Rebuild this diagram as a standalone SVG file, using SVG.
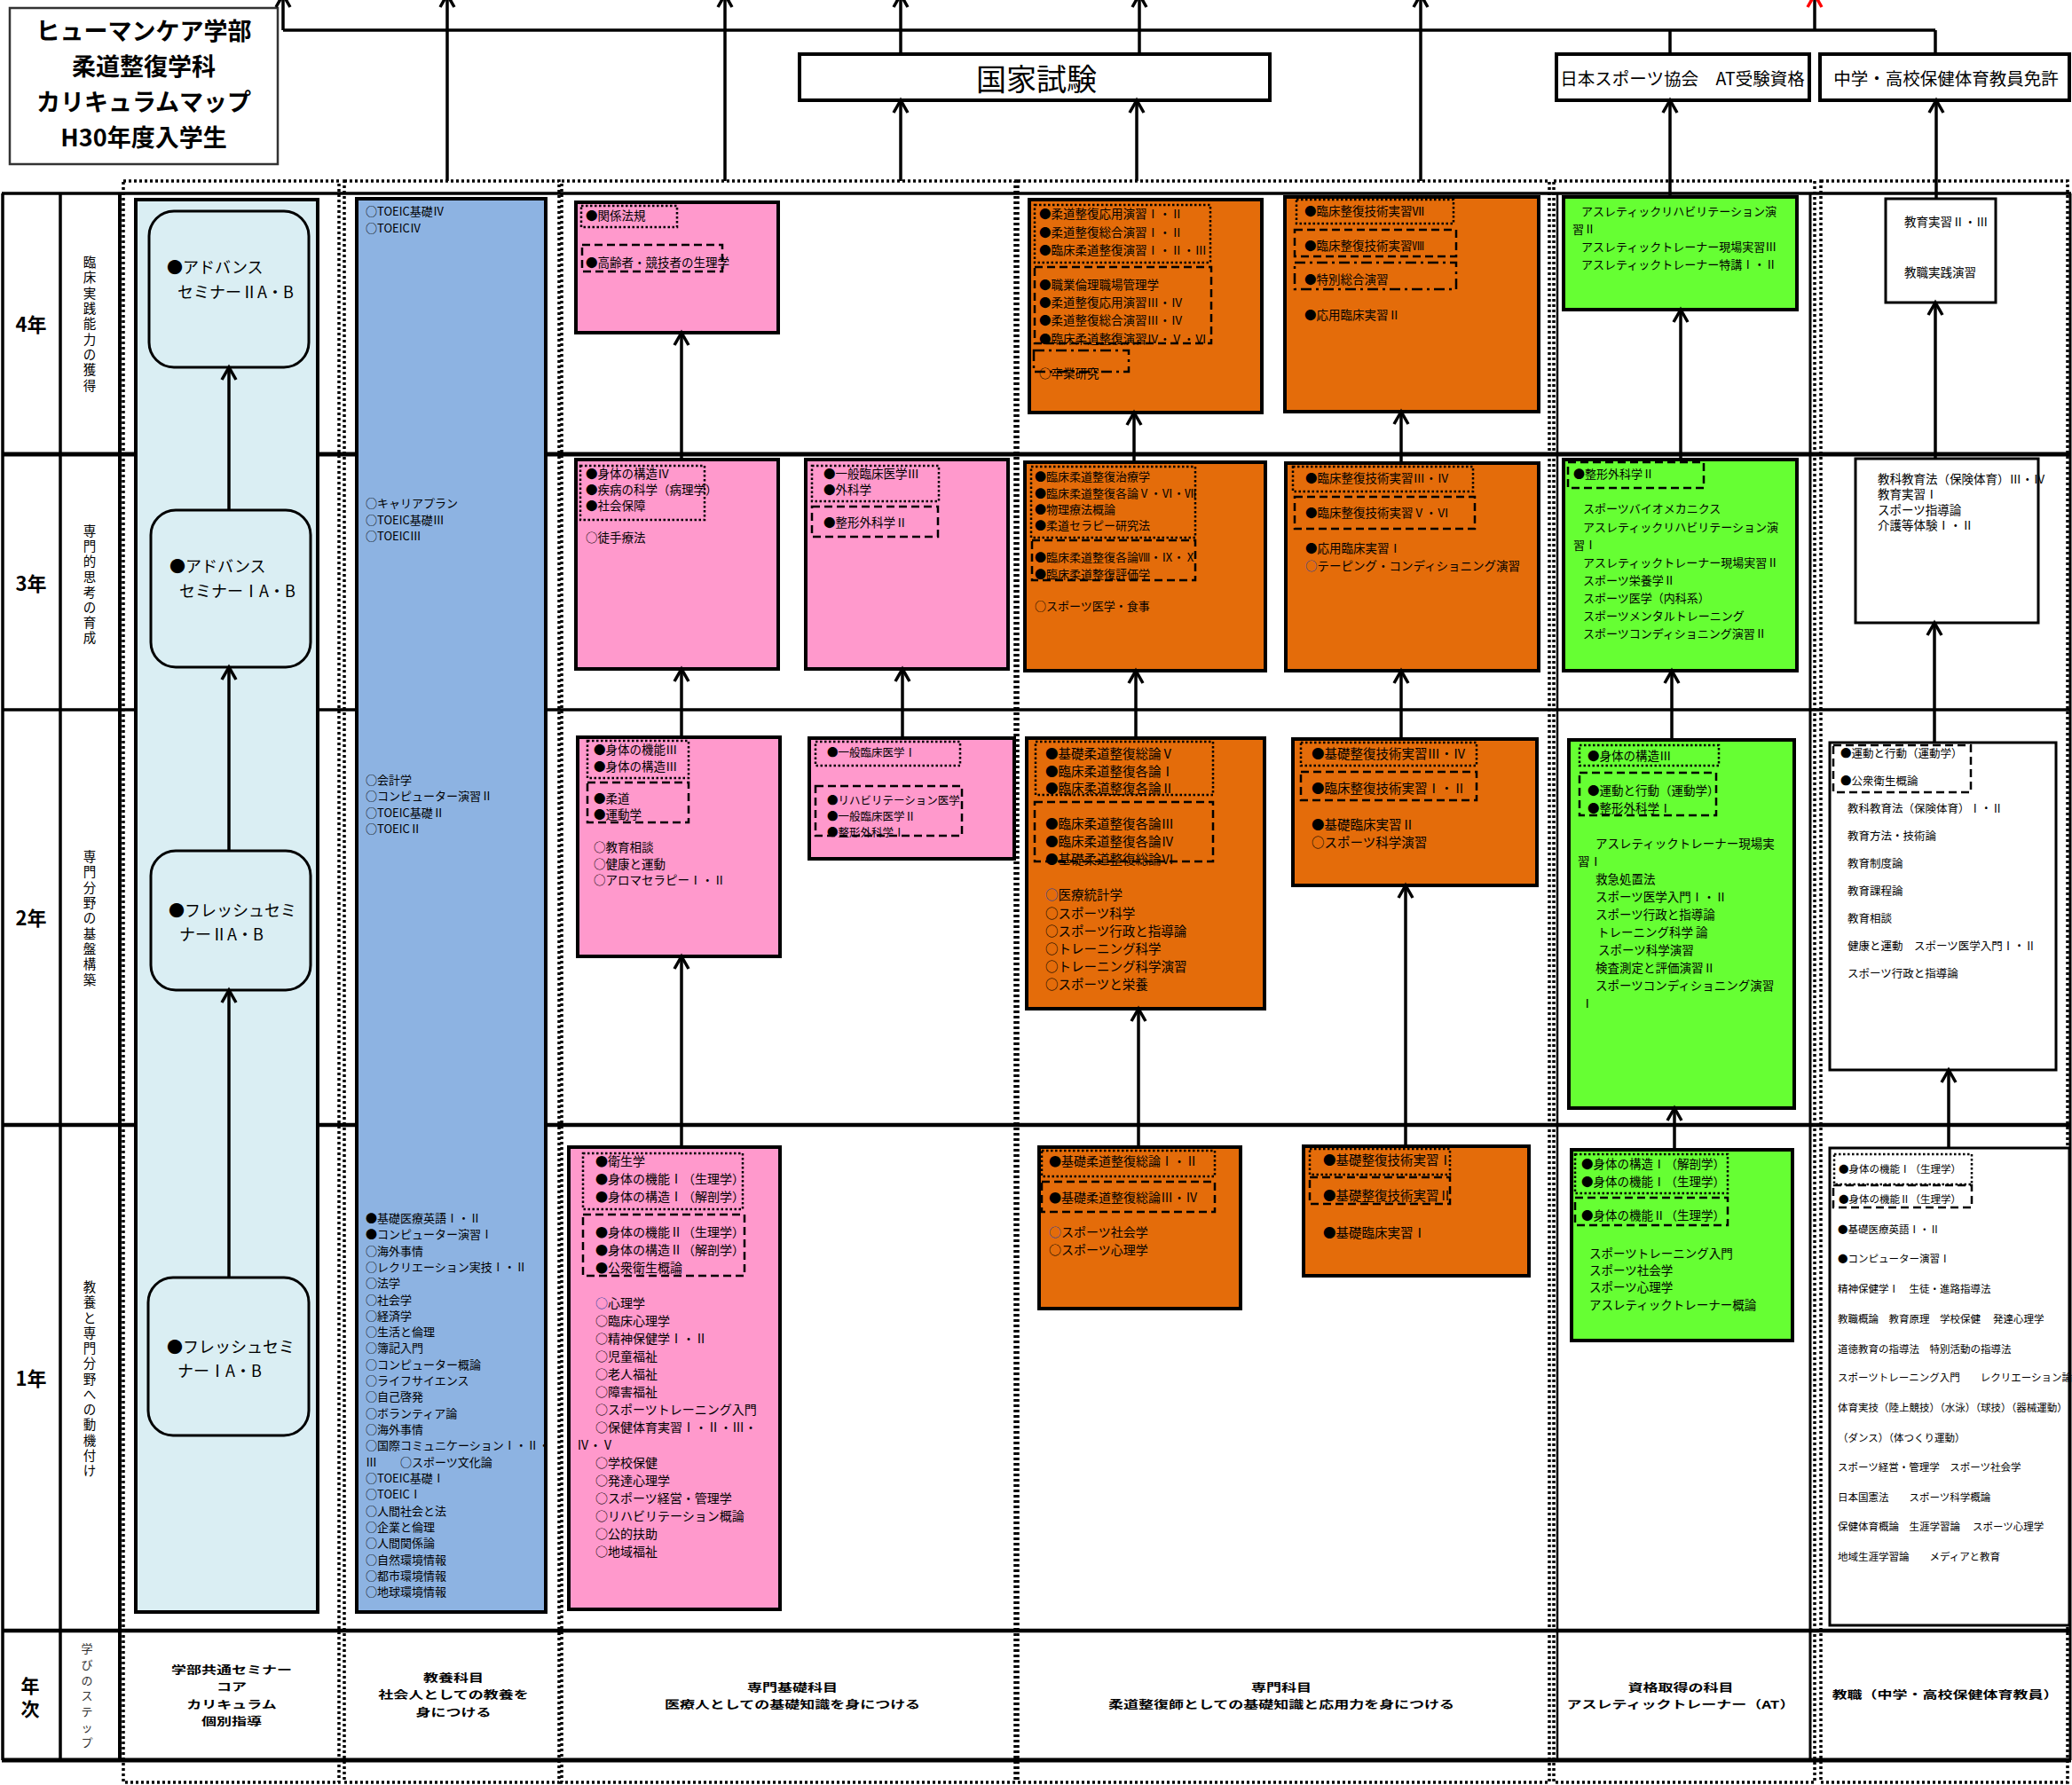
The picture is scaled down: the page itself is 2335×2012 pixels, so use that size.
<svg xmlns="http://www.w3.org/2000/svg" width="2335" height="2012" viewBox="0 0 2335 2012">
<style>
text{font-family:"Noto Sans CJK JP","Noto Sans",sans-serif;dominant-baseline:central;fill:#000}
.b{font-weight:bold}
.f11{font-size:11.5px}.f12{font-size:12.5px}.f13{font-size:13px}.f135{font-size:13.5px}.f14{font-size:14px}.f145{font-size:14.5px}
.mid{text-anchor:middle}
.lab{font-weight:bold;font-size:17px;text-anchor:middle}
.gl{stroke:#000;fill:none}
.grp{fill:none;stroke:#000;stroke-width:3.5;stroke-dasharray:3 3}
.bx{stroke:#000;stroke-width:4}
.pk{fill:#FF99CC}.or{fill:#E46C0A}.gr{fill:#66FF33}.wh{fill:#fff}.lb{fill:#DAEEF3}.bl{fill:#8DB3E2}
.sd{fill:none;stroke:#000;stroke-width:2.5;stroke-dasharray:2.5 2.5}
.sh{fill:none;stroke:#000;stroke-width:2.5;stroke-dasharray:9 5}
.sdd{fill:none;stroke:#000;stroke-width:2.5;stroke-dasharray:12 5 3 5}
.c{stroke:#000;stroke-width:3.5;fill:none}
.blue{fill:#1F3F9F}
</style>
<defs>
<marker id="ah" viewBox="-16 -10 20 20" refX="0" refY="0" markerWidth="20" markerHeight="20" markerUnits="userSpaceOnUse" orient="auto"><path d="M-14,-8 L0,0 L-14,8" fill="none" stroke="#000" stroke-width="3.5"/></marker>
<marker id="ahr" viewBox="-16 -10 20 20" refX="0" refY="0" markerWidth="20" markerHeight="20" markerUnits="userSpaceOnUse" orient="auto"><path d="M-14,-8 L0,0 L-14,8" fill="none" stroke="#FF0000" stroke-width="3.5"/></marker>
</defs>
<rect width="2335" height="2012" fill="#fff"/>

<g id="grid">
<path class="gl" stroke-width="3.5" d="M2,218H2334M2,800H2334"/>
<path class="gl" stroke-width="5" d="M2,512H2334M2,1984H2334"/>
<path class="gl" stroke-width="4.5" d="M2,1268H2334M2,1838H2334"/>
<path class="gl" stroke-width="3.5" d="M3,218V1984M68,218V1984"/>
<path class="gl" stroke-width="4" d="M135,218V1984"/>
<path class="gl" stroke-width="2.5" d="M1755,218V1984"/>
<path class="gl" stroke-width="3" d="M2040,218V1984M2333,218V1984"/>
<rect class="grp" x="139" y="204" width="243" height="1805"/>
<rect class="grp" x="388" y="204" width="242" height="1805"/>
<rect class="grp" x="633" y="204" width="511" height="1805"/>
<rect class="grp" x="1147" y="204" width="599" height="1805"/>
<rect class="grp" x="1751" y="204" width="294" height="1805"/>
<rect class="grp" x="2052" y="204" width="278" height="1805"/>
</g>

<g id="labels">
<text class="b mid" x="35" y="364" font-size="22">4年</text>
<text class="b mid" x="35" y="656" font-size="22">3年</text>
<text class="b mid" x="35" y="1033" font-size="22">2年</text>
<text class="b mid" x="35" y="1552" font-size="22">1年</text>
<text class="mid" x="101" font-size="14.5"><tspan x="101" y="294">臨</tspan><tspan x="101" y="311">床</tspan><tspan x="101" y="329">実</tspan><tspan x="101" y="346">践</tspan><tspan x="101" y="363">能</tspan><tspan x="101" y="381">力</tspan><tspan x="101" y="398">の</tspan><tspan x="101" y="415">獲</tspan><tspan x="101" y="433">得</tspan></text>
<text class="mid" x="101" font-size="14.5"><tspan x="101" y="597">専</tspan><tspan x="101" y="614">門</tspan><tspan x="101" y="631">的</tspan><tspan x="101" y="649">思</tspan><tspan x="101" y="666">考</tspan><tspan x="101" y="683">の</tspan><tspan x="101" y="700">育</tspan><tspan x="101" y="717">成</tspan></text>
<text class="mid" x="101" font-size="14.5"><tspan x="101" y="964">専</tspan><tspan x="101" y="981">門</tspan><tspan x="101" y="999">分</tspan><tspan x="101" y="1016">野</tspan><tspan x="101" y="1033">の</tspan><tspan x="101" y="1051">基</tspan><tspan x="101" y="1068">盤</tspan><tspan x="101" y="1085">構</tspan><tspan x="101" y="1103">築</tspan></text>
<text class="mid" x="101" font-size="14.5"><tspan x="101" y="1449">教</tspan><tspan x="101" y="1466">養</tspan><tspan x="101" y="1484">と</tspan><tspan x="101" y="1501">専</tspan><tspan x="101" y="1518">門</tspan><tspan x="101" y="1535">分</tspan><tspan x="101" y="1553">野</tspan><tspan x="101" y="1570">へ</tspan><tspan x="101" y="1587">の</tspan><tspan x="101" y="1604">動</tspan><tspan x="101" y="1622">機</tspan><tspan x="101" y="1639">付</tspan><tspan x="101" y="1656">け</tspan></text>
<text class="b mid" x="34" font-size="21"><tspan x="34" y="1899">年</tspan><tspan x="34" y="1925">次</tspan></text>
<text class="mid" x="98" font-size="13" style="fill:#333"><tspan x="98" y="1857">学</tspan><tspan x="98" y="1875">び</tspan><tspan x="98" y="1893">の</tspan><tspan x="98" y="1910">ス</tspan><tspan x="98" y="1928">テ</tspan><tspan x="98" y="1946">ッ</tspan><tspan x="98" y="1963">プ</tspan></text>
<text class="lab" transform="translate(261,1882) scale(1,0.72)">学部共通セミナー</text>
<text class="lab" transform="translate(261,1901) scale(1,0.72)">コア</text>
<text class="lab" transform="translate(261,1921) scale(1,0.72)">カリキュラム</text>
<text class="lab" transform="translate(261,1940) scale(1,0.72)">個別指導</text>
<text class="lab" transform="translate(511,1891) scale(1,0.72)">教養科目</text>
<text class="lab" transform="translate(511,1910) scale(1,0.72)">社会人としての教養を</text>
<text class="lab" transform="translate(511,1930) scale(1,0.72)">身につける</text>
<text class="lab" transform="translate(893,1902) scale(1,0.72)">専門基礎科目</text>
<text class="lab" transform="translate(893,1921) scale(1,0.72)">医療人としての基礎知識を身につける</text>
<text class="lab" transform="translate(1444,1902) scale(1,0.72)">専門科目</text>
<text class="lab" transform="translate(1444,1921) scale(1,0.72)">柔道整復師としての基礎知識と応用力を身につける</text>
<text class="lab" transform="translate(1894,1902) scale(1,0.72)">資格取得の科目</text>
<text class="lab" transform="translate(1894,1921) scale(1,0.72)">アスレティックトレーナー（AT）</text>
<text class="lab" font-size="16.5" transform="translate(2192,1910) scale(1,0.72)">教職（中学・高校保健体育教員）</text>
</g>

<g id="title">
<rect x="11" y="9" width="302" height="176" fill="#fff" stroke="#333" stroke-width="2.5"/>
<text class="b mid" font-size="27"><tspan x="162" y="33">ヒューマンケア学部</tspan><tspan x="162" y="73">柔道整復学科</tspan><tspan x="162" y="113">カリキュラムマップ</tspan><tspan x="162" y="153">H30年度入学生</tspan></text>
</g>

<g id="exam">
<rect class="bx wh" x="901" y="61" width="530" height="52"/>
<text class="mid" x="1168" y="87" font-size="34">国家試験</text>
</g>
<g id="at-cert">
<rect class="bx wh" x="1754" y="61" width="285" height="52"/>
<text class="mid" x="1896" y="87" font-size="19.5">日本スポーツ協会　AT受験資格</text>
</g>
<g id="teacher-cert">
<rect class="bx wh" x="2051" y="61" width="281" height="52"/>
<text class="mid" x="2193" y="87" font-size="19.5">中学・高校保健体育教員免許</text>
</g>

<g id="seminar-col"><rect class="bx lb" x="153" y="225" width="205" height="1592"/></g>
<g id="sem4"><rect x="168" y="238" width="180" height="176" rx="28" fill="#DAEEF3" stroke="#000" stroke-width="3"/>
<text font-size="18"><tspan x="188" y="300">●アドバンス</tspan><tspan x="200" y="328">セミナーⅡA・B</tspan></text></g>
<g id="sem3"><rect x="170" y="575" width="180" height="177" rx="28" fill="#DAEEF3" stroke="#000" stroke-width="3"/>
<text font-size="18"><tspan x="191" y="637">●アドバンス</tspan><tspan x="202" y="665">セミナーⅠA・B</tspan></text></g>
<g id="sem2"><rect x="170" y="959" width="180" height="157" rx="28" fill="#DAEEF3" stroke="#000" stroke-width="3"/>
<text font-size="18"><tspan x="190" y="1025">●フレッシュセミ</tspan><tspan x="202" y="1052">ナーⅡA・B</tspan></text></g>
<g id="sem1"><rect x="167" y="1440" width="181" height="178" rx="28" fill="#DAEEF3" stroke="#000" stroke-width="3"/>
<text font-size="18"><tspan x="188" y="1517">●フレッシュセミ</tspan><tspan x="200" y="1544">ナーⅠA・B</tspan></text></g>

<g id="liberal">
<rect class="bx bl" x="402" y="224" width="213" height="1593"/>
<text class="f13"><tspan x="412" y="237">○TOEIC基礎Ⅳ</tspan><tspan x="412" y="256">○TOEICⅣ</tspan>
<tspan x="412" y="566">○キャリアプラン</tspan><tspan x="412" y="585">○TOEIC基礎Ⅲ</tspan><tspan x="412" y="603">○TOEICⅢ</tspan>
<tspan x="412" y="878">○会計学</tspan><tspan x="412" y="896">○コンピューター演習Ⅱ</tspan><tspan x="412" y="915">○TOEIC基礎Ⅱ</tspan><tspan x="412" y="933">○TOEICⅡ</tspan>
<tspan x="412" y="1372">●基礎医療英語Ⅰ・Ⅱ</tspan><tspan x="412" y="1390">●コンピューター演習Ⅰ</tspan><tspan x="412" y="1409">○海外事情</tspan><tspan x="412" y="1427">○レクリエーション実技Ⅰ・Ⅱ</tspan><tspan x="412" y="1445">○法学</tspan><tspan x="412" y="1464">○社会学</tspan><tspan x="412" y="1482">○経済学</tspan><tspan x="412" y="1500">○生活と倫理</tspan><tspan x="412" y="1518">○簿記入門</tspan><tspan x="412" y="1537">○コンピューター概論</tspan><tspan x="412" y="1555">○ライフサイエンス</tspan><tspan x="412" y="1573">○自己啓発</tspan><tspan x="412" y="1592">○ボランティア論</tspan><tspan x="412" y="1610">○海外事情</tspan><tspan x="412" y="1628">○国際コミュニケーションⅠ・Ⅱ・</tspan><tspan x="412" y="1647">Ⅲ　　○スポーツ文化論</tspan><tspan x="412" y="1665">○TOEIC基礎Ⅰ</tspan><tspan x="412" y="1683">○TOEICⅠ</tspan><tspan x="412" y="1702">○人間社会と法</tspan><tspan x="412" y="1720">○企業と倫理</tspan><tspan x="412" y="1738">○人間関係論</tspan><tspan x="412" y="1757">○自然環境情報</tspan><tspan x="412" y="1775">○都市環境情報</tspan><tspan x="412" y="1793">○地球環境情報</tspan></text>
</g>

<g id="pink4">
<rect class="bx pk" x="649" y="228" width="228" height="147"/>
<rect class="sd" x="655" y="232" width="108" height="24"/>
<rect class="sh" x="656" y="276" width="158" height="30"/>
<text class="f135"><tspan x="660" y="242">●関係法規</tspan><tspan x="660" y="295">●高齢者・競技者の生理学</tspan></text>
</g>
<g id="pink3a">
<rect class="bx pk" x="649" y="518" width="228" height="236"/>
<rect class="sd" x="654" y="525" width="140" height="61"/>
<text class="f135"><tspan x="660" y="533">●身体の構造Ⅳ</tspan><tspan x="660" y="551">●疾病の科学（病理学）</tspan><tspan x="660" y="569">●社会保障</tspan><tspan x="660" y="605">○徒手療法</tspan></text>
</g>
<g id="pink3b">
<rect class="bx pk" x="908" y="518" width="228" height="236"/>
<rect class="sd" x="915" y="525" width="143" height="40"/>
<rect class="sh" x="915" y="571" width="142" height="34"/>
<text class="f135"><tspan x="928" y="533">●一般臨床医学Ⅲ</tspan><tspan x="928" y="551">●外科学</tspan><tspan x="928" y="588">●整形外科学Ⅱ</tspan></text>
</g>
<g id="pink2a">
<rect class="bx pk" x="651" y="831" width="228" height="247"/>
<rect class="sd" x="662" y="835" width="114" height="42"/>
<rect class="sh" x="662" y="882" width="114" height="45"/>
<text class="f135"><tspan x="669" y="844">●身体の機能Ⅲ</tspan><tspan x="669" y="863">●身体の構造Ⅲ</tspan><tspan x="669" y="899">●柔道</tspan><tspan x="669" y="917">●運動学</tspan><tspan x="669" y="954">○教育相談</tspan><tspan x="669" y="973">○健康と運動</tspan><tspan x="669" y="991">○アロマセラピーⅠ・Ⅱ</tspan></text>
</g>
<g id="pink2b">
<rect class="bx pk" x="912" y="832" width="231" height="136"/>
<rect class="sd" x="919" y="836" width="163" height="27"/>
<rect class="sh" x="919" y="886" width="165" height="56"/>
<text class="f12"><tspan x="932" y="847">●一般臨床医学Ⅰ</tspan><tspan x="932" y="901">●リハビリテーション医学</tspan><tspan x="932" y="919">●一般臨床医学Ⅱ</tspan><tspan x="932" y="937">●整形外科学Ⅰ</tspan></text>
</g>
<g id="pink1">
<rect class="bx pk" x="641" y="1293" width="238" height="521"/>
<rect class="sd" x="657" y="1300" width="180" height="63"/>
<rect class="sh" x="657" y="1369" width="182" height="69"/>
<text class="f14"><tspan x="671" y="1308">●衛生学</tspan><tspan x="671" y="1328">●身体の機能Ⅰ（生理学）</tspan><tspan x="671" y="1348">●身体の構造Ⅰ（解剖学）</tspan><tspan x="671" y="1388">●身体の機能Ⅱ（生理学）</tspan><tspan x="671" y="1408">●身体の構造Ⅱ（解剖学）</tspan><tspan x="671" y="1428">●公衆衛生概論</tspan><tspan x="671" y="1468"><tspan class="blue">○</tspan>心理学</tspan><tspan x="671" y="1488">○臨床心理学</tspan><tspan x="671" y="1508">○精神保健学Ⅰ・Ⅱ</tspan><tspan x="671" y="1528">○児童福祉</tspan><tspan x="671" y="1548">○老人福祉</tspan><tspan x="671" y="1568">○障害福祉</tspan><tspan x="671" y="1588">○スポーツトレーニング入門</tspan><tspan x="671" y="1608">○保健体育実習Ⅰ・Ⅱ・Ⅲ・</tspan><tspan x="650" y="1628">Ⅳ・Ⅴ</tspan><tspan x="671" y="1648">○学校保健</tspan><tspan x="671" y="1668">○発達心理学</tspan><tspan x="671" y="1688">○スポーツ経営・管理学</tspan><tspan x="671" y="1708">○リハビリテーション概論</tspan><tspan x="671" y="1728">○公的扶助</tspan><tspan x="671" y="1748">○地域福祉</tspan></text>
</g>

<g id="orange4a">
<rect class="bx or" x="1160" y="225" width="262" height="240"/>
<rect class="sd" x="1166" y="231" width="198" height="65"/>
<rect class="sh" x="1166" y="301" width="199" height="86"/>
<rect class="sdd" x="1165" y="395" width="107" height="24"/>
<text class="f135"><tspan x="1171" y="240">●柔道整復応用演習Ⅰ・Ⅱ</tspan><tspan x="1171" y="261">●柔道整復総合演習Ⅰ・Ⅱ</tspan><tspan x="1171" y="281">●臨床柔道整復演習Ⅰ・Ⅱ・Ⅲ</tspan><tspan x="1171" y="320">●職業倫理職場管理学</tspan><tspan x="1171" y="340">●柔道整復応用演習Ⅲ・Ⅳ</tspan><tspan x="1171" y="360">●柔道整復総合演習Ⅲ・Ⅳ</tspan><tspan x="1171" y="381">●臨床柔道整復演習Ⅳ・Ⅴ・Ⅵ</tspan><tspan x="1171" y="420">○卒業研究</tspan></text>
</g>
<g id="orange4b">
<rect class="bx or" x="1448" y="222" width="286" height="242"/>
<rect class="sd" x="1461" y="225" width="177" height="27"/>
<rect class="sh" x="1459" y="259" width="182" height="30"/>
<rect class="sdd" x="1459" y="296" width="182" height="30"/>
<text class="f135"><tspan x="1470" y="237">●臨床整復技術実習Ⅶ</tspan><tspan x="1470" y="276">●臨床整復技術実習Ⅷ</tspan><tspan x="1470" y="314">●特別総合演習</tspan><tspan x="1470" y="354">●応用臨床実習Ⅱ</tspan></text>
</g>
<g id="orange3a">
<rect class="bx or" x="1155" y="521" width="271" height="235"/>
<rect class="sd" x="1162" y="526" width="185" height="80"/>
<rect class="sh" x="1163" y="609" width="184" height="45"/>
<text class="f13"><tspan x="1166" y="536">●臨床柔道整復治療学</tspan><tspan x="1166" y="555">●臨床柔道整復各論Ⅴ・Ⅵ・Ⅶ</tspan><tspan x="1166" y="573">●物理療法概論</tspan><tspan x="1166" y="591">●柔道セラピー研究法</tspan><tspan x="1166" y="627">●臨床柔道整復各論Ⅷ・Ⅸ・Ⅹ</tspan><tspan x="1166" y="646">●臨床柔道整復評価学</tspan><tspan x="1166" y="682">○スポーツ医学・食事</tspan></text>
</g>
<g id="orange3b">
<rect class="bx or" x="1449" y="522" width="285" height="234"/>
<rect class="sd" x="1457" y="526" width="203" height="28"/>
<rect class="sh" x="1459" y="560" width="203" height="36"/>
<text class="f135"><tspan x="1471" y="538">●臨床整復技術実習Ⅲ・Ⅳ</tspan><tspan x="1471" y="577">●臨床整復技術実習Ⅴ・Ⅵ</tspan><tspan x="1471" y="617">●応用臨床実習Ⅰ</tspan><tspan x="1471" y="637"><tspan class="blue">○</tspan>テーピング・コンディショニング演習</tspan></text>
</g>
<g id="orange2a">
<rect class="bx or" x="1157" y="832" width="268" height="305"/>
<rect class="sd" x="1167" y="836" width="200" height="60"/>
<rect class="sh" x="1166" y="904" width="201" height="67"/>
<text class="f145"><tspan x="1178" y="848">●基礎柔道整復総論Ⅴ</tspan><tspan x="1178" y="868">●臨床柔道整復各論Ⅰ</tspan><tspan x="1178" y="887">●臨床柔道整復各論Ⅱ</tspan><tspan x="1178" y="927">●臨床柔道整復各論Ⅲ</tspan><tspan x="1178" y="947">●臨床柔道整復各論Ⅳ</tspan><tspan x="1178" y="967">●基礎柔道整復総論Ⅵ</tspan><tspan x="1178" y="1007"><tspan class="blue">○</tspan>医療統計学</tspan><tspan x="1178" y="1028">○スポーツ科学</tspan><tspan x="1178" y="1048">○スポーツ行政と指導論</tspan><tspan x="1178" y="1068">○トレーニング科学</tspan><tspan x="1178" y="1088">○トレーニング科学演習</tspan><tspan x="1178" y="1108">○スポーツと栄養</tspan></text>
</g>
<g id="orange2b">
<rect class="bx or" x="1457" y="833" width="275" height="165"/>
<rect class="sd" x="1466" y="837" width="198" height="26"/>
<rect class="sh" x="1466" y="870" width="198" height="32"/>
<text class="f145"><tspan x="1478" y="848">●基礎整復技術実習Ⅲ・Ⅳ</tspan><tspan x="1478" y="887">●臨床整復技術実習Ⅰ・Ⅱ</tspan><tspan x="1478" y="928">●基礎臨床実習Ⅱ</tspan><tspan x="1478" y="948">○スポーツ科学演習</tspan></text>
</g>
<g id="orange1a">
<rect class="bx or" x="1171" y="1293" width="227" height="182"/>
<rect class="sd" x="1174" y="1297" width="195" height="29"/>
<rect class="sh" x="1174" y="1332" width="195" height="34"/>
<text class="f14"><tspan x="1182" y="1308">●基礎柔道整復総論Ⅰ・Ⅱ</tspan><tspan x="1182" y="1349">●基礎柔道整復総論Ⅲ・Ⅳ</tspan><tspan x="1182" y="1388"><tspan class="blue">○</tspan>スポーツ社会学</tspan><tspan x="1182" y="1408">○スポーツ心理学</tspan></text>
</g>
<g id="orange1b">
<rect class="bx or" x="1469" y="1292" width="254" height="146"/>
<rect class="sd" x="1476" y="1295" width="158" height="29"/>
<rect class="sh" x="1476" y="1327" width="158" height="30"/>
<text class="f145"><tspan x="1491" y="1306">●基礎整復技術実習Ⅰ</tspan><tspan x="1491" y="1346">●基礎整復技術実習Ⅱ</tspan><tspan x="1491" y="1388">●基礎臨床実習Ⅰ</tspan></text>
</g>

<g id="green4">
<rect class="bx gr" x="1762" y="222" width="263" height="127" stroke-width="3.5"/>
<text class="f13"><tspan x="1782" y="237">アスレティックリハビリテーション演</tspan><tspan x="1772" y="257">習Ⅱ</tspan><tspan x="1782" y="277">アスレティックトレーナー現場実習Ⅲ</tspan><tspan x="1782" y="297">アスレティックトレーナー特講Ⅰ・Ⅱ</tspan></text>
</g>
<g id="green3">
<rect class="bx gr" x="1762" y="518" width="263" height="238" stroke-width="3.5"/>
<rect class="sh" x="1767" y="521" width="153" height="29"/>
<text class="f13"><tspan x="1773" y="533">●整形外科学Ⅱ</tspan><tspan x="1784" y="572">スポーツバイオメカニクス</tspan><tspan x="1784" y="593">アスレティックリハビリテーション演</tspan><tspan x="1773" y="613">習Ⅰ</tspan><tspan x="1784" y="633">アスレティックトレーナー現場実習Ⅱ</tspan><tspan x="1784" y="653">スポーツ栄養学Ⅱ</tspan><tspan x="1784" y="673">スポーツ医学（内科系）</tspan><tspan x="1784" y="693">スポーツメンタルトレーニング</tspan><tspan x="1784" y="713">スポーツコンディショニング演習Ⅱ</tspan></text>
</g>
<g id="green2">
<rect class="bx gr" x="1768" y="834" width="254" height="415" stroke-width="3.5"/>
<rect class="sd" x="1780" y="840" width="157" height="23"/>
<rect class="sh" x="1780" y="871" width="154" height="48"/>
<text class="f135"><tspan x="1789" y="851">●身体の構造Ⅲ</tspan><tspan x="1789" y="890">●運動と行動（運動学）</tspan><tspan x="1789" y="910">●整形外科学Ⅰ</tspan><tspan x="1798" y="950">アスレティックトレーナー現場実</tspan><tspan x="1778" y="970">習Ⅰ</tspan><tspan x="1798" y="990">救急処置法</tspan><tspan x="1798" y="1010">スポーツ医学入門Ⅰ・Ⅱ</tspan><tspan x="1798" y="1030">スポーツ行政と指導論</tspan><tspan x="1800" y="1050">トレーニング科学 論</tspan><tspan x="1801" y="1070">スポーツ科学演習</tspan><tspan x="1798" y="1090">検査測定と評価演習Ⅱ</tspan><tspan x="1798" y="1110">スポーツコンディショニング演習</tspan><tspan x="1782" y="1130">Ⅰ</tspan></text>
</g>
<g id="green1">
<rect class="bx gr" x="1771" y="1296" width="249" height="215" stroke-width="3.5"/>
<rect class="sd" x="1775" y="1301" width="172" height="44"/>
<rect class="sh" x="1775" y="1350" width="172" height="31"/>
<text class="f135"><tspan x="1782" y="1311">●身体の構造Ⅰ（解剖学）</tspan><tspan x="1782" y="1331">●身体の機能Ⅰ（生理学）</tspan><tspan x="1782" y="1369">●身体の機能Ⅱ（生理学）</tspan><tspan x="1791" y="1412">スポーツトレーニング入門</tspan><tspan x="1791" y="1431">スポーツ社会学</tspan><tspan x="1791" y="1450">スポーツ心理学</tspan><tspan x="1791" y="1470">アスレティックトレーナー概論</tspan></text>
</g>

<g id="white4">
<rect class="wh" x="2125" y="224" width="124" height="117" stroke="#000" stroke-width="3"/>
<text class="f135"><tspan x="2146" y="249">教育実習Ⅱ・Ⅲ</tspan><tspan x="2146" y="306">教職実践演習</tspan></text>
</g>
<g id="white3">
<rect class="wh" x="2091" y="517" width="206" height="185" stroke="#000" stroke-width="3"/>
<text class="f135"><tspan x="2116" y="539">教科教育法（保険体育）Ⅲ・Ⅳ</tspan><tspan x="2116" y="556">教育実習Ⅰ</tspan><tspan x="2116" y="574">スポーツ指導論</tspan><tspan x="2116" y="591">介護等体験Ⅰ・Ⅱ</tspan></text>
</g>
<g id="white2">
<rect class="wh" x="2062" y="837" width="255" height="369" stroke="#000" stroke-width="3"/>
<rect class="sh" x="2066" y="840" width="155" height="53"/>
<text class="f12"><tspan x="2074" y="848">●運動と行動（運動学）</tspan><tspan x="2074" y="879">●公衆衛生概論</tspan><tspan x="2082" y="910">教科教育法（保険体育）Ⅰ・Ⅱ</tspan><tspan x="2082" y="941">教育方法・技術論</tspan><tspan x="2082" y="972">教育制度論</tspan><tspan x="2082" y="1003">教育課程論</tspan><tspan x="2082" y="1034">教育相談</tspan><tspan x="2082" y="1065">健康と運動　スポーツ医学入門Ⅰ・Ⅱ</tspan><tspan x="2082" y="1096">スポーツ行政と指導論</tspan></text>
</g>
<g id="white1">
<rect class="wh" x="2062" y="1294" width="270" height="538" stroke="#000" stroke-width="3"/>
<rect class="sd" x="2067" y="1301" width="155" height="34"/>
<rect class="sh" x="2066" y="1336" width="156" height="25"/>
<text class="f11"><tspan x="2072" y="1317">●身体の機能Ⅰ（生理学）</tspan><tspan x="2072" y="1351">●身体の機能Ⅱ（生理学）</tspan><tspan x="2071" y="1385">●基礎医療英語Ⅰ・Ⅱ</tspan><tspan x="2071" y="1418">●コンピューター演習Ⅰ</tspan><tspan x="2071" y="1452">精神保健学Ⅰ　生徒・進路指導法</tspan><tspan x="2071" y="1486">教職概論　教育原理　学校保健　 発達心理学</tspan><tspan x="2071" y="1520">道徳教育の指導法　特別活動の指導法</tspan><tspan x="2071" y="1552">スポーツトレーニング入門　　レクリエーション論</tspan><tspan x="2071" y="1586">体育実技（陸上競技）（水泳）（球技）（器械運動）</tspan><tspan x="2071" y="1620">（ダンス）（体つくり運動）</tspan><tspan x="2071" y="1653">スポーツ経営・管理学　スポーツ社会学</tspan><tspan x="2071" y="1687">日本国憲法　　スポーツ科学概論</tspan><tspan x="2071" y="1720">保健体育概論　生涯学習論　 スポーツ心理学</tspan><tspan x="2071" y="1754">地域生涯学習論　　メディアと教育</tspan></text>
</g>

<g id="connectors">
<path class="c" stroke-width="5" d="M319,34H2181"/>
<path class="c" d="M319,34V-6" marker-end="url(#ah)"/>
<path class="c" d="M504,204V-6" marker-end="url(#ah)"/>
<path class="c" d="M817,204V-6" marker-end="url(#ah)"/>
<path class="c" d="M1015,61V-6" marker-end="url(#ah)"/>
<path class="c" d="M1015,204V113" marker-end="url(#ah)"/>
<path class="c" d="M1284,61V-6" marker-end="url(#ah)"/>
<path class="c" d="M1281,204V113" marker-end="url(#ah)"/>
<path class="c" d="M1601,204V-6" marker-end="url(#ah)"/>
<path class="c" stroke="#FF0000" d="M2045,34V-6" marker-end="url(#ahr)"/>
<path class="c" d="M1882,34V61M2181,34V61"/>
<path class="c" d="M1882,222V113" marker-end="url(#ah)"/>
<path class="c" d="M2182,224V113" marker-end="url(#ah)"/>
<path class="c" d="M258,575V414" marker-end="url(#ah)"/>
<path class="c" d="M258,959V752" marker-end="url(#ah)"/>
<path class="c" d="M258,1440V1116" marker-end="url(#ah)"/>
<path class="c" d="M768,518V375" marker-end="url(#ah)"/>
<path class="c" d="M768,831V754" marker-end="url(#ah)"/>
<path class="c" d="M1017,832V754" marker-end="url(#ah)"/>
<path class="c" d="M768,1293V1078" marker-end="url(#ah)"/>
<path class="c" d="M1278,521V465" marker-end="url(#ah)"/>
<path class="c" d="M1579,522V464" marker-end="url(#ah)"/>
<path class="c" d="M1280,832V756" marker-end="url(#ah)"/>
<path class="c" d="M1579,833V756" marker-end="url(#ah)"/>
<path class="c" d="M1283,1293V1137" marker-end="url(#ah)"/>
<path class="c" d="M1584,1292V998" marker-end="url(#ah)"/>
<path class="c" d="M1894,518V349" marker-end="url(#ah)"/>
<path class="c" d="M1884,834V756" marker-end="url(#ah)"/>
<path class="c" d="M1887,1296V1249" marker-end="url(#ah)"/>
<path class="c" d="M2181,517V341" marker-end="url(#ah)"/>
<path class="c" d="M2180,837V702" marker-end="url(#ah)"/>
<path class="c" d="M2196,1294V1206" marker-end="url(#ah)"/>
</g>
</svg>
